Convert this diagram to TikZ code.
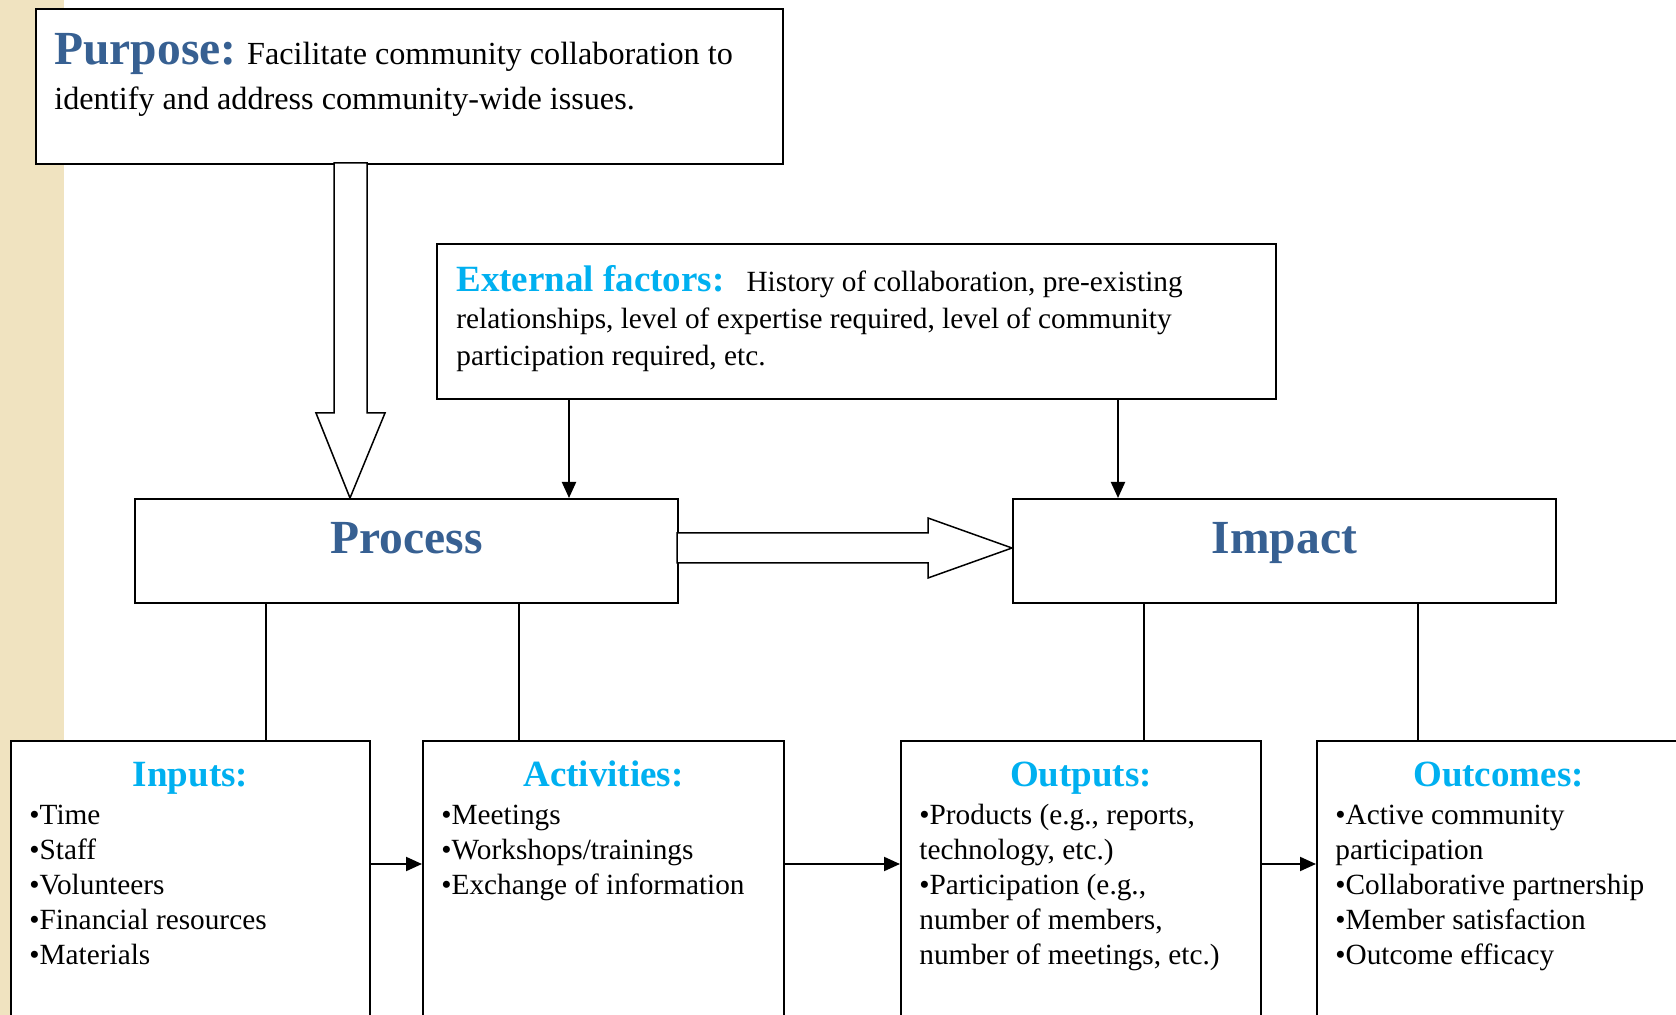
\documentclass[tikz,border=0pt]{standalone}
\usepackage{fontspec}
\setmainfont{Liberation Serif}
\usetikzlibrary{arrows.meta}

\definecolor{darkblue}{RGB}{55,96,146}
\definecolor{skyblue}{RGB}{0,176,240}
\definecolor{beige}{RGB}{240,227,192}

\newcommand\bodyfont{\fontsize{14.65}{17.5}\selectfont}
\newcommand\extfont{\fontsize{14.65}{18.5}\selectfont}
\newcommand\purposefont{\fontsize{16.1}{22.5}\selectfont}
\newcommand\headfont{\fontsize{18.5}{18.5}\selectfont\bfseries}
\newcommand\bigfont{\fontsize{23.75}{24}\selectfont\bfseries}

\tikzset{
  box/.style={draw, fill=white, line width=1pt, inner sep=0pt},
  txt/.style={inner sep=0pt, anchor=base west, align=left},
  head/.style={inner sep=0pt, anchor=base, font=\headfont, text=skyblue},
  arr/.style={line width=1pt, -{Triangle[length=8pt,width=7pt]}},
  hollow/.style={draw, line width=0.75pt, fill=white, line join=miter}
}

\begin{document}
\begin{tikzpicture}[x=0.5pt,y=-0.5pt]
\useasboundingbox (0,0) rectangle (1676,1015);
\fill[beige] (0,0) rectangle (64,1015);

% top boxes (text nodes sit on the baseline of their last line)
\node[box, minimum width=373.5pt, minimum height=77.5pt] (purpose) at (409.5,86.5) {};
\node[box, minimum width=419.5pt, minimum height=77.5pt] (ext) at (856.5,321.5) {};
\node[txt, font=\purposefont] (purposetxt) at ([xshift=9.5pt,yshift=-51pt]purpose.north west)
  {{\bigfont\color{darkblue}Purpose:} Facilitate community collaboration to\\identify and address community-wide issues.};
\node[txt, font=\extfont] (exttxt) at ([xshift=10pt,yshift=-61.5pt]ext.north west)
  {{\headfont\color{skyblue}External factors:}\hspace{11pt}History of collaboration, pre-existing\\relationships, level of expertise required, level of community\\participation required, etc.};

% middle boxes
\node[box, minimum width=271.5pt, minimum height=52pt] (process) at (406.5,551) {};
\node[box, minimum width=271.5pt, minimum height=52pt] (impact) at (1284.5,551) {};
\node[anchor=base, inner sep=0pt, font=\bigfont, text=darkblue] (proctxt) at ([yshift=-28pt]process.north) {Process};
\node[anchor=base, inner sep=0pt, font=\bigfont, text=darkblue] (imptxt) at ([yshift=-28pt]impact.north) {Impact};

% bottom boxes
\node[box, minimum width=179.5pt, minimum height=149.5pt] (inputs) at (190.5,890.5) {};
\node[box, minimum width=180.5pt, minimum height=149.5pt] (activities) at (603.5,890.5) {};
\node[box, minimum width=180pt, minimum height=149.5pt] (outputs) at (1081,890.5) {};
\node[box, minimum width=181.5pt, minimum height=149.5pt] (outcomes) at (1498.5,890.5) {};

\node[head] (inputshd) at ([yshift=-23pt]inputs.north) {Inputs:};
\node[head] (activitieshd) at ([yshift=-23pt]activities.north) {Activities:};
\node[head] (outputshd) at ([yshift=-23pt]outputs.north) {Outputs:};
\node[head] (outcomeshd) at ([yshift=-23pt]outcomes.north) {Outcomes:};

\node[txt, font=\bodyfont] (inputstxt) at ([xshift=9.5pt,yshift=-112pt]inputs.north west)
  {•Time\\•Staff\\•Volunteers\\•Financial resources\\•Materials};
\node[txt, font=\bodyfont] (activitiestxt) at ([xshift=9.5pt,yshift=-77pt]activities.north west)
  {•Meetings\\•Workshops/trainings\\•Exchange of information};
\node[txt, font=\bodyfont] (outputstxt) at ([xshift=9.5pt,yshift=-112pt]outputs.north west)
  {•Products (e.g., reports,\\technology, etc.)\\•Participation (e.g.,\\number of members,\\number of meetings, etc.)};
\node[txt, font=\bodyfont] (outcomestxt) at ([xshift=9.5pt,yshift=-112pt]outcomes.north west)
  {•Active community\\participation\\•Collaborative partnership\\•Member satisfaction\\•Outcome efficacy};

% block arrows
\path (process.north west) ++(216,0) coordinate (tipd);
\draw[hollow] (tipd) -- ++(-34,-85) -- ++(18,0) -- ++(0,-250) -- ++(33,0) -- ++(0,250) -- ++(18,0) -- cycle;
\path ([yshift=1.5pt]impact.west) coordinate (tiph);
\draw[hollow] (tiph) -- ++(-84,-30) -- ++(0,15) -- ++(-251,0) -- ++(0,30) -- ++(251,0) -- ++(0,15) -- cycle;

% external factors
\path (ext.south west) ++(133,0) coordinate (e1);
\path (ext.south west) ++(682,0) coordinate (e2);
\draw[arr] (e1) -- (e1 |- process.north);
\draw[arr] (e2) -- (e2 |- impact.north);

% process and impact to the boxes below
\path (process.south west) ++(132,0) coordinate (p1);
\path (process.south west) ++(385,0) coordinate (p2);
\path (impact.south west) ++(132,0) coordinate (q1);
\path (impact.south west) ++(406,0) coordinate (q2);
\draw[line width=0.8pt] (p1) -- (p1 |- inputs.north);
\draw[line width=0.8pt] (p2) -- (p2 |- activities.north);
\draw[line width=0.8pt] (q1) -- (q1 |- outputs.north);
\draw[line width=0.8pt] (q2) -- (q2 |- outcomes.north);

\draw[arr] ([yshift=-62pt]inputs.north east) -- ([yshift=-62pt]activities.north west);
\draw[arr] ([yshift=-62pt]activities.north east) -- ([yshift=-62pt]outputs.north west);
\draw[arr] ([yshift=-62pt]outputs.north east) -- ([yshift=-62pt]outcomes.north west);
\end{tikzpicture}
\end{document}
